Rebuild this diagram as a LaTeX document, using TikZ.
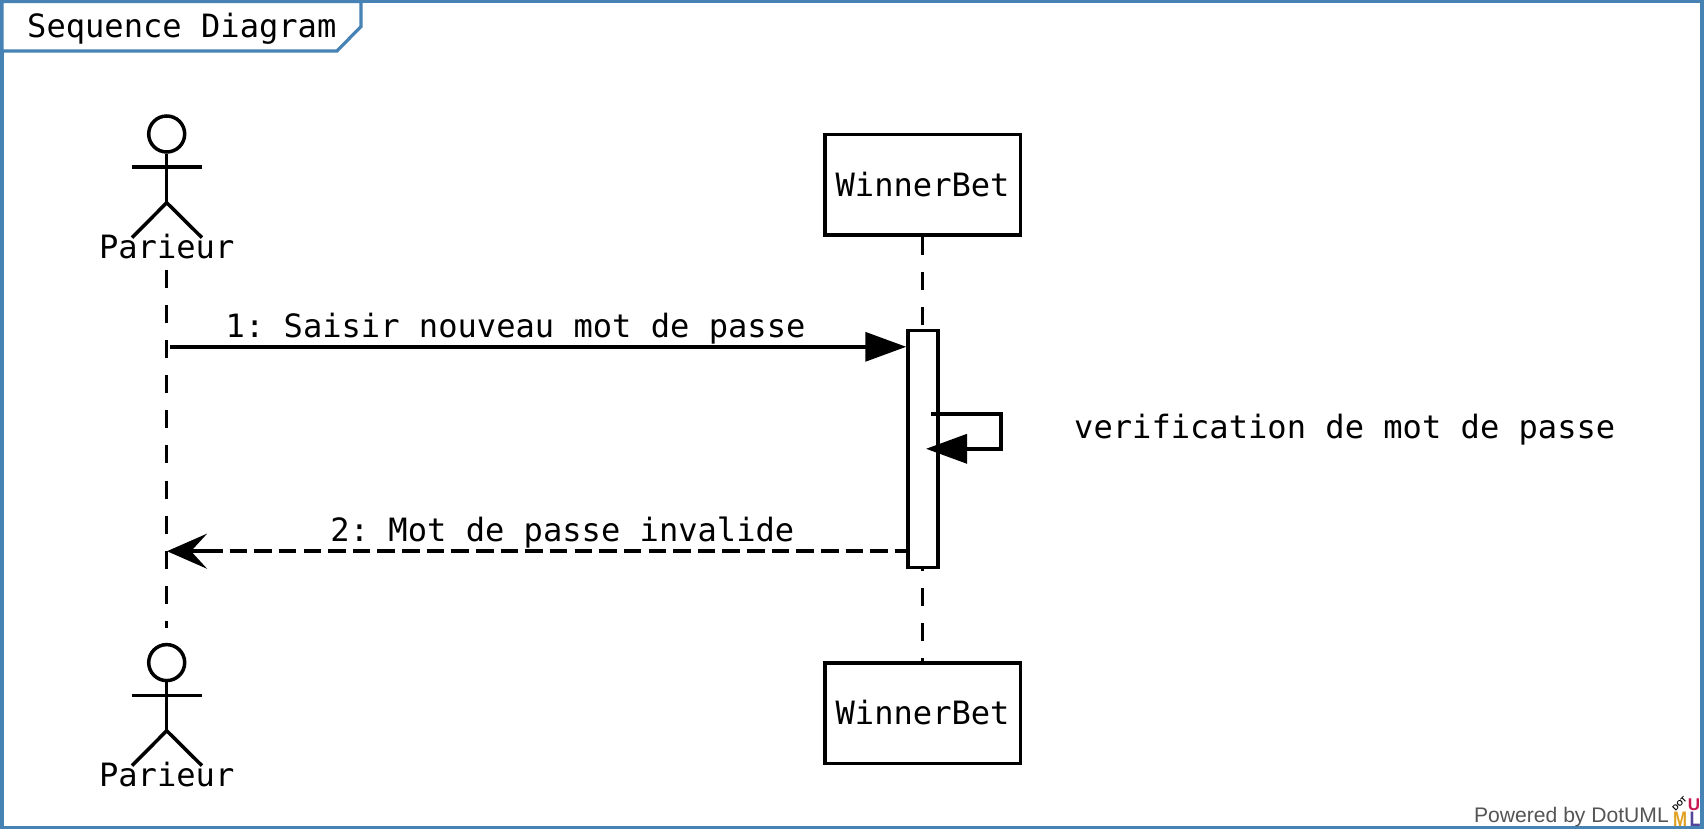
\documentclass[tikz,border=0pt]{standalone}
\usepackage{fontspec}
\setmainfont{Liberation Sans}
\setmonofont{DejaVu Sans Mono}
\usetikzlibrary{arrows.meta}
\definecolor{frameblue}{HTML}{4682B4}
\definecolor{logogold}{HTML}{E0A020}
\definecolor{logored}{HTML}{C8174F}
\definecolor{logopurple}{HTML}{54459A}
\tikzset{
  x=1pt,y=-1pt,
  umlline/.style={draw=black,line width=3.5pt},
  lifeline/.style={umlline,dash pattern=on 18pt off 17.14pt},
  msgdash/.style={umlline,dash pattern=on 17.5pt off 7.14pt},
  label/.style={inner sep=0pt,font=\ttfamily\fontsize{32.1}{33}\selectfont,text=black},
  objbox/.style={umlline,fill=white,minimum width=195.5pt,minimum height=100.5pt,inner sep=0pt,font=\ttfamily\fontsize{32.1}{33}\selectfont},
  headc/.style={umlline,circle,minimum size=36pt,inner sep=0pt},
  activation/.style={umlline,fill=white,minimum width=30pt,minimum height=237pt,inner sep=0pt},
  solidtip/.style={-{Triangle[length=41pt,width=29pt,sep=0pt]}},
  opentip/.style={-{Stealth[length=40pt,width=35pt,inset=16pt]}},
  logotext/.style={inner sep=0pt,anchor=base,font=\bfseries\fontsize{21}{21}\selectfont},
}
\begin{document}
\begin{tikzpicture}[line join=miter]
\useasboundingbox (0,0) rectangle (1704,829);
\fill[white] (0,0) rectangle (1704,829);
% frame
\draw[frameblue,line width=3.2pt] (2,1.5) rectangle (1702,828);
\draw[frameblue,line width=3.2pt,fill=white] (2,1.5) -- (361,1.5) -- (361,26.5) -- (337,51) -- (2,51) -- cycle;
\node[label,anchor=base west] (title) at (27,37.5) {Sequence Diagram};
% lifeline ends
\coordinate (pTop) at (166.7,269.7);
\coordinate (pBot) at (166.7,628.3);
\node[objbox] (w1) at (922.6,184.7) {WinnerBet};
\node[objbox] (w2) at (922.6,713) {WinnerBet};
\draw[lifeline] (pTop) -- (pBot);
\draw[lifeline] (w1.south) -- (w2.north);
% actors
\node[headc] (h1) at (166.7,134) {};
\draw[umlline] (h1.south) -- (166.7,202.7) coordinate (c1);
\draw[umlline] (132,167.2) -- (202,167.2);
\draw[umlline] (132,237.7) -- (c1) -- (202,237.7);
\node[label,anchor=base] (n1) at (166.7,258.6) {Parieur};
\node[headc] (h2) at (166.7,662.6) {};
\draw[umlline] (h2.south) -- (166.7,730.7) coordinate (c2);
\draw[umlline] (132,695.6) -- (202,695.6);
\draw[umlline] (132,765.7) -- (c2) -- (202,765.7);
\node[label,anchor=base] (n2) at (166.7,786.6) {Parieur};
% messages and activation
\coordinate (m1s) at (170,346.8);
\coordinate (m2b) at (205,551.2);
\coordinate (m2e) at (167,551.2);
\node[activation] (act) at (923,449.2) {};
\draw[umlline,solidtip] (m1s) -- (act.west |- m1s);
\node[label,anchor=base] (l1) at (515.6,337) {1: Saisir nouveau mot de passe};
\coordinate (s1) at (931,413.8);
\coordinate (s2) at (1001,413.8);
\coordinate (s3) at (1001,448.8);
\coordinate (s4) at (926,448.8);
\draw[umlline,solidtip] (s1) -- (s2) -- (s3) -- (s4);
\node[label,anchor=base west] (l2) at (1074,438.5) {verification de mot de passe};
\draw[msgdash] (m2b) -- (act.west |- m2b);
\draw[umlline,opentip] (m2b) -- (m2e);
\node[label,anchor=base] (l3) at (562.4,541) {2: Mot de passe invalide};
% footer
\node[inner sep=0pt,anchor=base east,font=\fontsize{21.1}{22}\selectfont,text=black!67] (pw) at (1669,822.5) {Powered by DotUML};
\node[logotext,text=logogold,xscale=0.8] (lm) at (1680,826.5) {M};
\node[logotext,text=logored,font=\bfseries\fontsize{17}{17}\selectfont] (lu) at (1694,810) {U};
\node[logotext,text=logopurple,xscale=0.85] (ll) at (1695,826.5) {L};
\node[inner sep=0pt,rotate=45,font=\bfseries\fontsize{8}{8}\selectfont,text=black] (ld) at (1679.5,804) {DOT};
\end{tikzpicture}
\end{document}
